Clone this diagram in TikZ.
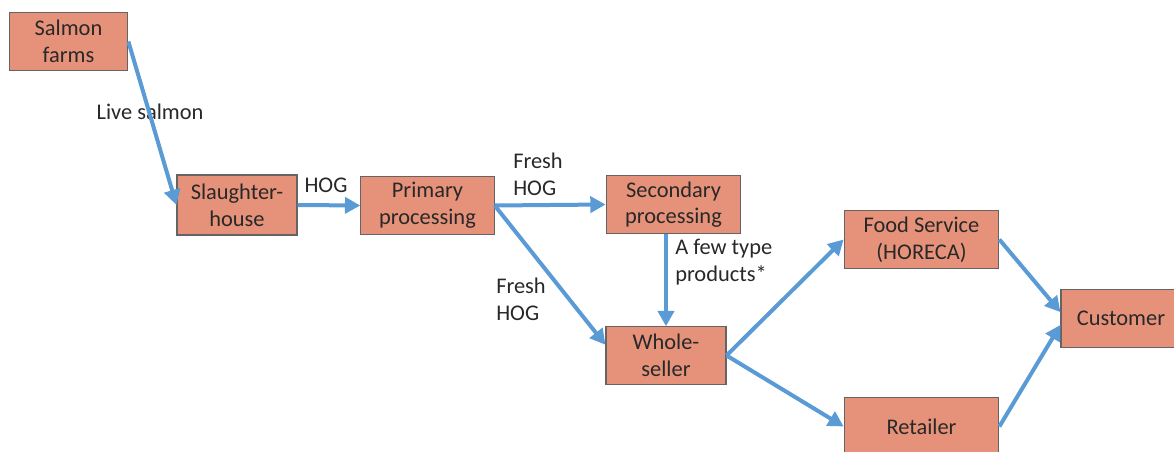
\documentclass[tikz,border=0pt]{standalone}
\usepackage{fontspec}
\setmainfont{Carlito}
\usetikzlibrary{arrows.meta}
\definecolor{boxfill}{RGB}{230,146,122}
\definecolor{boxline}{RGB}{100,100,100}
\definecolor{flowblue}{RGB}{91,155,213}
\definecolor{txt}{RGB}{40,40,40}
\begin{document}
\begin{tikzpicture}[x=0.75pt, y=-0.75pt,
  box/.style={draw=boxline, fill=boxfill, line width=0.8pt, align=center, inner sep=0pt, text=txt, font=\fontsize{16.8}{20}\selectfont},
  lbl/.style={align=left, inner sep=0pt, text=txt, font=\fontsize{16.8}{20}\selectfont},
  flow/.style={draw=flowblue, line width=3pt, -{Triangle[length=11.5pt,width=12pt]}}]
\useasboundingbox (0,0) rectangle (1174,452);
\node[box, minimum width=89pt, minimum height=43pt] (farms) at (68.5,41.5){Salmon\\farms};
\node[box, minimum width=90pt, minimum height=45pt] (slaughter) at (237,205){Slaughter-\\house};
\node[box, minimum width=100pt, minimum height=44pt] (primary) at (427.5,205.5){Primary\\processing};
\node[box, minimum width=101pt, minimum height=44pt] (secondary) at (673.5,204.5){Secondary\\processing};
\node[box, minimum width=90pt, minimum height=43pt] (whole) at (666,355.5){Whole-\\seller};
\node[box, minimum width=116pt, minimum height=43pt] (food) at (921.5,239.5){Food Service\\(HORECA)};
\node[box, minimum width=116pt, minimum height=43pt] (retail) at (921.5,426.5){Retailer};
\node[box, minimum width=90pt, minimum height=43pt] (customer) at (1121,318.5){Customer};
\node[lbl] (lblLive) at (150,112){Live salmon};
\node[lbl] (lblHog) at (326,185){HOG};
\node[lbl, anchor=west] (lblFreshA) at (513,174){Fresh\\HOG};
\node[lbl, anchor=west] (lblFreshB) at (496,299){Fresh\\HOG};
\node[lbl, anchor=west] (lblFew) at (675,262){A few type\\products*};
\draw[flow](farms.east) -- (slaughter.west);
\draw[flow](slaughter.east) -- (primary.west);
\draw[flow](primary.east) -- (secondary.west);
\draw[flow](primary.east) -- (whole.170);
\draw[flow](whole.north |- secondary.south) -- (whole.north);
\draw[flow](whole.east) -- (food.west);
\draw[flow](whole.east) -- (retail.west);
\draw[flow](food.east) -- (customer.174);
\draw[flow](retail.east) -- (customer.186);
\end{tikzpicture}
\end{document}
